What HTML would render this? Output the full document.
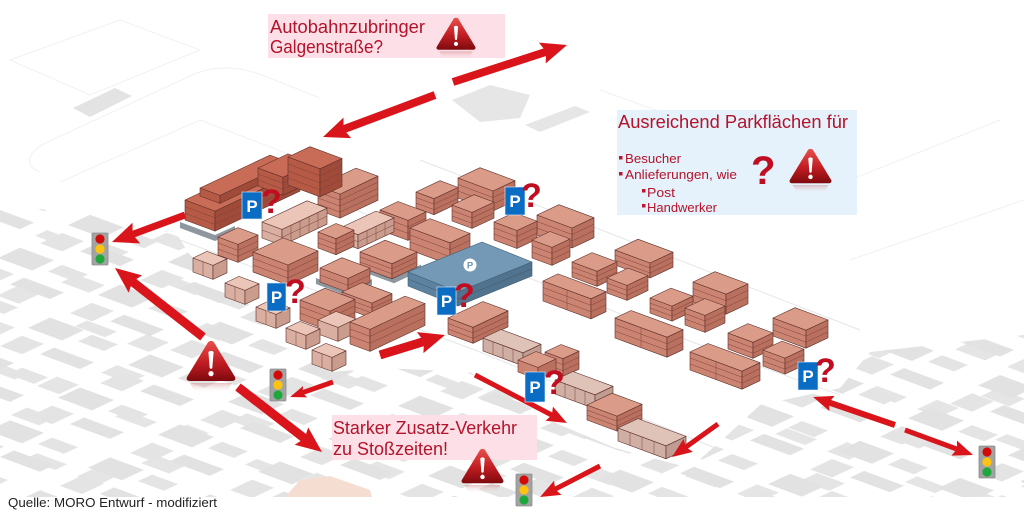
<!DOCTYPE html>
<html><head><meta charset="utf-8"><style>
html,body{margin:0;padding:0;background:#fff;}
svg{display:block;}
.b path{stroke:#5e302a;stroke-width:.6;stroke-linejoin:round;}
.f{fill:#cc8472}.s{fill:#b9705e}.t{fill:#da9b89}
.df{fill:#b65a46}.ds{fill:#a04b39}.dt{fill:#c86c57}
.lf{fill:#d9afa1}.ls{fill:#c99c8e}.lt{fill:#ebc6b8}
.gf{fill:#cfaea3}.gs{fill:#bf9d92}.gt{fill:#dfc2b8}
.b path.fl{fill:none;stroke:#7e4239;stroke-width:.5}
.ar{stroke:#d9151b;fill:none;stroke-linecap:butt}
.lbl{font-family:"Liberation Sans",Arial,sans-serif;fill:#b3132b;}
.q{font-family:"Liberation Sans",Arial,sans-serif;font-weight:bold;fill:#c00d22;}
.pt{font-family:"Liberation Sans",Arial,sans-serif;font-weight:bold;fill:#fff;font-size:17px;}
</style></head><body>
<svg width="1024" height="532" viewBox="0 0 1024 532" xmlns="http://www.w3.org/2000/svg">
<defs>
 <pattern id="blk" patternUnits="userSpaceOnUse" width="100" height="70" patternTransform="matrix(1 0.37 -1 0.47 0 0)">
  <rect x="6" y="6" width="34" height="22" fill="#e2e2e2"/>
  <rect x="50" y="8" width="26" height="14" fill="#e4e4e4"/>
  <rect x="12" y="40" width="22" height="22" fill="#e4e4e4"/>
  <rect x="44" y="40" width="40" height="14" fill="#e2e2e2"/>
 </pattern>
 <pattern id="blk2" patternUnits="userSpaceOnUse" width="130" height="90" patternTransform="matrix(1 0.37 -1 0.47 17 9)">
  <rect x="90" y="20" width="28" height="16" fill="#e5e5e5"/>
  <rect x="20" y="70" width="30" height="12" fill="#e5e5e5"/>
  <rect x="70" y="60" width="22" height="20" fill="#e5e5e5"/>
 </pattern>
 <linearGradient id="wg" x1="0" y1="0" x2="0" y2="1">
  <stop offset="0" stop-color="#e8504c"/><stop offset=".55" stop-color="#c01c22"/><stop offset="1" stop-color="#7e0a0e"/>
 </linearGradient>
 <linearGradient id="wr" x1="0" y1="0" x2="0" y2="1">
  <stop offset="0" stop-color="#c97a7a" stop-opacity=".45"/><stop offset="1" stop-color="#fff" stop-opacity="0"/>
 </linearGradient>
 <g id="warn">
  <path d="M4 43 L46 43 L40 53 L10 53 Z" fill="url(#wr)"/>
  <path d="M25 1 C27 1 28 2 29 4 L49 37 C50 39 49 41 46 41 L4 41 C1 41 0 39 1 37 L21 4 C22 2 23 1 25 1 Z" fill="url(#wg)"/>
  <path d="M22.4 12 Q25 9.8 27.6 12 L26.3 28 Q25 29.6 23.7 28 Z" fill="#fff"/>
  <circle cx="25" cy="33.6" r="2.6" fill="#fff"/>
 </g>
 <g id="tl">
  <rect x="0" y="0" width="16" height="32" rx="1" fill="#a3a3a3" stroke="#8c8c8c" stroke-width=".8"/>
  <circle cx="8" cy="6" r="4.6" fill="#d20a0a"/>
  <circle cx="8" cy="16" r="4.6" fill="#ffc20e"/>
  <circle cx="8" cy="26" r="4.6" fill="#1ea83c"/>
 </g>
 <marker id="mb" markerUnits="userSpaceOnUse" viewBox="0 0 26 22" markerWidth="26" markerHeight="22" refX="4" refY="11" orient="auto">
  <path d="M0 0 L26 11 L0 22 L4 11 Z" fill="#d9151b"/>
 </marker>
 <marker id="mm" markerUnits="userSpaceOnUse" viewBox="0 0 20 16" markerWidth="20" markerHeight="16" refX="3" refY="8" orient="auto">
  <path d="M0 0 L20 8 L0 16 L3 8 Z" fill="#d9151b"/>
 </marker>
 <marker id="ms" markerUnits="userSpaceOnUse" viewBox="0 0 16 12" markerWidth="16" markerHeight="12" refX="3" refY="6" orient="auto">
  <path d="M0 0 L16 6 L0 12 L3 6 Z" fill="#d9151b"/>
 </marker>
</defs>

<rect width="1024" height="532" fill="#fff"/>

<!-- background blocks -->
<path d="M0 205 L100 215 L178 236 L190 255 L330 372 L380 368 L470 372 L560 425 L615 448 L690 468 L722 440 L760 405 L840 388 L870 352 L1024 335 L1024 497 L0 497 Z" fill="url(#blk2)"/>
<path d="M0 205 L100 215 L178 236 L190 255 L330 372 L380 368 L470 372 L560 425 L615 448 L690 468 L722 440 L760 405 L840 388 L870 352 L1024 335 L1024 497 L0 497 Z" fill="url(#blk)"/>
<path d="M73 108 L115 88 L132 96 L90 117 Z" fill="#e3e3e3"/>
<path d="M452 100 L490 85 L530 95 L520 118 L480 122 Z" fill="#e6e6e6"/>
<path d="M525 125 L575 106 L590 112 L540 132 Z" fill="#e6e6e6"/>
<path d="M285 497 L300 480 L330 476 L370 490 L372 497 Z" fill="#f6ddd2"/>

<!-- faint outlines -->
<g fill="none" stroke="#f1f1f1" stroke-width="1">
 <path d="M40 172 C22 165 28 150 52 140 L190 76 C214 65 238 66 262 75 L320 98"/>
 <path d="M60 182 L200 120 L330 170"/>
 <path d="M10 60 L120 20 L200 50 L90 95 Z"/>
 <path d="M600 90 L850 180 L1000 120"/>
 <path d="M850 260 L1024 200"/>
</g>
<g fill="none" stroke="#e6e6e6" stroke-width="1">
 <path d="M180 240 L480 352 L720 450"/>
 <path d="M330 200 L700 345 L840 395"/>
 <path d="M420 160 L860 330"/>
</g>

<!-- gray bases -->
<path d="M180 222 l35 13 l20 -9 v6 l-20 9 l-35 -13z" fill="#8e969e"/>
<path d="M316 278 l32 12 l24 -11 v6 l-24 11 l-32 -12z" fill="#8e969e"/>
<path d="M358 264 l36 13.3 l27 -12.7 v6 l-27 12.7 l-36 -13.3z" fill="#8e969e"/>
<path d="M338 300 l36 13 l22 -10 v6 l-22 10 l-36 -13z" fill="#8e969e"/>

<!-- buildings -->
<g class="b">
<path class="f" d="M458 178l35 13v20l-35-13z"/><path class="s" d="M493 191l22-10.3v20l-22 10.3z"/><path class="t" d="M458 178l22-10.3l35 13l-22 10.3z"/><path class="fl" d="M458 184.5l35 13l22-10.3M458 191l35 13l22-10.3"/>
<path class="f" d="M318 186l22 8.1v24l-22-8.1z"/><path class="s" d="M340 194.1l38-17.9v24l-38 17.9z"/><path class="t" d="M318 186l38-17.9l22 8.1l-38 17.9z"/><path class="fl" d="M318 192l22 8.1l38-17.9M318 198l22 8.1l38-17.9M318 204l22 8.1l38-17.9"/>
<path class="f" d="M416 192l18 6.7v16l-18-6.7z"/><path class="s" d="M434 198.7l24-11.3v16l-24 11.3z"/><path class="t" d="M416 192l24-11.3l18 6.7l-24 11.3z"/><path class="fl" d="M416 197.5l18 6.7l24-11.3M416 203l18 6.7l24-11.3"/>
<path class="df" d="M185 200l30 11.1v20l-30-11.1z"/><path class="ds" d="M215 211.1l85-40v20l-85 40z"/><path class="dt" d="M185 200l85-40l30 11.1l-85 40z"/><path class="fl" d="M185 206.7l30 11.1l85-40M185 213.3l30 11.1l85-40"/>
<path class="df" d="M200 188l20 7.4v8l-20-7.4z"/><path class="ds" d="M220 195.4l70-32.9v8l-70 32.9z"/><path class="dt" d="M200 188l70-32.9l20 7.4l-70 32.9z"/>
<path class="df" d="M258 168l25 9.3v18l-25-9.3z"/><path class="ds" d="M283 177.3l30-14.1v18l-30 14.1z"/><path class="dt" d="M258 168l30-14.1l25 9.3l-30 14.1z"/><path class="fl" d="M258 174l25 9.3l30-14.1M258 180l25 9.3l30-14.1"/>
<path class="df" d="M288 157l32 11.8v28l-32-11.8z"/><path class="ds" d="M320 168.8l22-10.3v28l-22 10.3z"/><path class="dt" d="M288 157l22-10.3l32 11.8l-22 10.3z"/><path class="fl" d="M288 164l32 11.8l22-10.3M288 171l32 11.8l22-10.3M288 178l32 11.8l22-10.3"/>
<path class="f" d="M452 205l20 7.4v16l-20-7.4z"/><path class="s" d="M472 212.4l22-10.3v16l-22 10.3z"/><path class="t" d="M452 205l22-10.3l20 7.4l-22 10.3z"/><path class="fl" d="M452 210.5l20 7.4l22-10.3M452 216l20 7.4l22-10.3"/>
<path class="f" d="M380 210l28 10.4v20l-28-10.4z"/><path class="s" d="M408 220.4l18-8.5v20l-18 8.5z"/><path class="t" d="M380 210l18-8.5l28 10.4l-18 8.5z"/><path class="fl" d="M380 216.5l28 10.4l18-8.5M380 223l28 10.4l18-8.5"/>
<path class="f" d="M537 215l35 13v20l-35-13z"/><path class="s" d="M572 228l22-10.3v20l-22 10.3z"/><path class="t" d="M537 215l22-10.3l35 13l-22 10.3z"/><path class="fl" d="M537 221.5l35 13l22-10.3M537 228l35 13l22-10.3"/>
<path class="lf" d="M262 222l20 7.4v16l-20-7.4z"/><path class="ls" d="M282 229.4l45-21.2v16l-45 21.2z"/><path class="lt" d="M262 222l45-21.2l20 7.4l-45 21.2z"/><path class="fl" d="M262 230l20 7.4l45-21.2M291 225.2v16M300 220.9v16M309 216.7v16M318 212.5v16"/>
<path class="f" d="M494 222l23 8.5v18l-23-8.5z"/><path class="s" d="M517 230.5l20-9.4v18l-20 9.4z"/><path class="t" d="M494 222l20-9.4l23 8.5l-20 9.4z"/><path class="fl" d="M494 228l23 8.5l20-9.4M494 234l23 8.5l20-9.4"/>
<path class="lf" d="M340 228l18 6.7v14l-18-6.7z"/><path class="ls" d="M358 234.7l36-16.9v14l-36 16.9z"/><path class="lt" d="M340 228l36-16.9l18 6.7l-36 16.9z"/><path class="fl" d="M340 235l18 6.7l36-16.9M367 230.5v14M376 226.2v14M385 222v14"/>
<path class="f" d="M318 232l18 6.7v16l-18-6.7z"/><path class="s" d="M336 238.7l18-8.5v16l-18 8.5z"/><path class="t" d="M318 232l18-8.5l18 6.7l-18 8.5z"/><path class="fl" d="M318 237.5l18 6.7l18-8.5M318 243l18 6.7l18-8.5"/>
<path class="f" d="M410 228l40 14.8v22l-40-14.8z"/><path class="s" d="M450 242.8l20-9.4v22l-20 9.4z"/><path class="t" d="M410 228l20-9.4l40 14.8l-20 9.4z"/><path class="fl" d="M410 235l40 14.8l20-9.4M410 242l40 14.8l20-9.4"/>
<path class="f" d="M218 237l20 7.4v18l-20-7.4z"/><path class="s" d="M238 244.4l20-9.4v18l-20 9.4z"/><path class="t" d="M218 237l20-9.4l20 7.4l-20 9.4z"/><path class="fl" d="M218 243l20 7.4l20-9.4M218 249l20 7.4l20-9.4"/>
<path class="f" d="M532 240l20 7.4v18l-20-7.4z"/><path class="s" d="M552 247.4l18-8.5v18l-18 8.5z"/><path class="t" d="M532 240l18-8.5l20 7.4l-18 8.5z"/><path class="fl" d="M532 246l20 7.4l18-8.5M532 252l20 7.4l18-8.5"/>
<path class="f" d="M615 250l35 13v15l-35-13z"/><path class="s" d="M650 263l23-10.8v15l-23 10.8z"/><path class="t" d="M615 250l23-10.8l35 13l-23 10.8z"/><path class="fl" d="M615 255l35 13l23-10.8M615 260l35 13l23-10.8"/>
<path class="lf" d="M193 258l20 7.4v14l-20-7.4z"/><path class="ls" d="M213 265.4l14-6.6v14l-14 6.6z"/><path class="lt" d="M193 258l14-6.6l20 7.4l-14 6.6z"/><path class="fl" d="M203 261.7v14"/>
<path class="f" d="M253 252l35 13v20l-35-13z"/><path class="s" d="M288 265l30-14.1v20l-30 14.1z"/><path class="t" d="M253 252l30-14.1l35 13l-30 14.1z"/><path class="fl" d="M253 258.5l35 13l30-14.1M253 265l35 13l30-14.1"/>
<path class="f" d="M360 252l32 11.8v15l-32-11.8z"/><path class="s" d="M392 263.8l25-11.8v15l-25 11.8z"/><path class="t" d="M360 252l25-11.8l32 11.8l-25 11.8z"/><path class="fl" d="M360 257l32 11.8l25-11.8M360 262l32 11.8l25-11.8"/>
<path class="f" d="M572 262l25 9.3v15l-25-9.3z"/><path class="s" d="M597 271.3l20-9.4v15l-20 9.4z"/><path class="t" d="M572 262l20-9.4l25 9.3l-20 9.4z"/><path class="fl" d="M572 267l25 9.3l20-9.4M572 272l25 9.3l20-9.4"/>
<path class="f" d="M320 268l28 10.4v14l-28-10.4z"/><path class="s" d="M348 278.4l22-10.3v14l-22 10.3z"/><path class="t" d="M320 268l22-10.3l28 10.4l-22 10.3z"/><path class="fl" d="M320 275l28 10.4l22-10.3"/>
</g>

<!-- garage -->
<g stroke="#3f5e75" stroke-width=".6" stroke-linejoin="round">
 <path d="M408 272 L482 242 L532 262 L458 292 Z" fill="#7399b6"/>
 <path d="M408 272 L458 292 L458 306 L408 286 Z" fill="#5d829f"/>
 <path d="M458 292 L532 262 L532 276 L458 306 Z" fill="#51738e"/>
 <path d="M408 279 L458 299 L532 269" fill="none"/>
</g>
<circle cx="470" cy="265" r="6.5" fill="#fff"/>
<text x="470" y="268.5" text-anchor="middle" font-family="Liberation Sans, Arial, sans-serif" font-weight="bold" font-size="9.5" fill="#6f95b2">P</text>

<g class="b">
<path class="f" d="M607 278l20 7.4v15l-20-7.4z"/><path class="s" d="M627 285.4l21-9.9v15l-21 9.9z"/><path class="t" d="M607 278l21-9.9l20 7.4l-21 9.9z"/><path class="fl" d="M607 283l20 7.4l21-9.9M607 288l20 7.4l21-9.9"/>
<path class="f" d="M543 281l48 17.8v20l-48-17.8z"/><path class="s" d="M591 298.8l15-7.1v20l-15 7.1z"/><path class="t" d="M543 281l15-7.1l48 17.8l-15 7.1z"/><path class="fl" d="M543 287.5l48 17.8l15-7.1M543 294l48 17.8l15-7.1M567 289.9v20"/>
<path class="f" d="M693 282l33 12.2v20l-33-12.2z"/><path class="s" d="M726 294.2l22-10.3v20l-22 10.3z"/><path class="t" d="M693 282l22-10.3l33 12.2l-22 10.3z"/><path class="fl" d="M693 288.5l33 12.2l22-10.3M693 295l33 12.2l22-10.3"/>
<path class="lf" d="M225 283l20 7.4v14l-20-7.4z"/><path class="ls" d="M245 290.4l14-6.6v14l-14 6.6z"/><path class="lt" d="M225 283l14-6.6l20 7.4l-14 6.6z"/><path class="fl" d="M235 286.7v14"/>
<path class="f" d="M342 292l30 11.1v15l-30-11.1z"/><path class="s" d="M372 303.1l20-9.4v15l-20 9.4z"/><path class="t" d="M342 292l20-9.4l30 11.1l-20 9.4z"/><path class="fl" d="M342 297l30 11.1l20-9.4M342 302l30 11.1l20-9.4"/>
<path class="f" d="M650 298l22 8.1v15l-22-8.1z"/><path class="s" d="M672 306.1l21-9.9v15l-21 9.9z"/><path class="t" d="M650 298l21-9.9l22 8.1l-21 9.9z"/><path class="fl" d="M650 303l22 8.1l21-9.9M650 308l22 8.1l21-9.9"/>
<path class="f" d="M300 300l30 11.1v20l-30-11.1z"/><path class="s" d="M330 311.1l25-11.8v20l-25 11.8z"/><path class="t" d="M300 300l25-11.8l30 11.1l-25 11.8z"/><path class="fl" d="M300 306.5l30 11.1l25-11.8M300 313l30 11.1l25-11.8"/>
<path class="f" d="M685 308l20 7.4v17l-20-7.4z"/><path class="s" d="M705 315.4l20-9.4v17l-20 9.4z"/><path class="t" d="M685 308l20-9.4l20 7.4l-20 9.4z"/><path class="fl" d="M685 313.5l20 7.4l20-9.4M685 319l20 7.4l20-9.4"/>
<path class="lf" d="M256 307l20 7.4v14l-20-7.4z"/><path class="ls" d="M276 314.4l14-6.6v14l-14 6.6z"/><path class="lt" d="M256 307l14-6.6l20 7.4l-14 6.6z"/><path class="fl" d="M266 310.7v14"/>
<path class="f" d="M448 318l25 9.3v16l-25-9.3z"/><path class="s" d="M473 327.3l35-16.5v16l-35 16.5z"/><path class="t" d="M448 318l35-16.5l25 9.3l-35 16.5z"/><path class="fl" d="M448 323.5l25 9.3l35-16.5M448 329l25 9.3l35-16.5"/>
<path class="f" d="M615 318l52 19.2v20l-52-19.2z"/><path class="s" d="M667 337.2l16-7.5v20l-16 7.5z"/><path class="t" d="M615 318l16-7.5l52 19.2l-16 7.5z"/><path class="fl" d="M615 324.5l52 19.2l16-7.5M615 331l52 19.2l16-7.5M641 327.6v20"/>
<path class="f" d="M773 318l33 12.2v18l-33-12.2z"/><path class="s" d="M806 330.2l22-10.3v18l-22 10.3z"/><path class="t" d="M773 318l22-10.3l33 12.2l-22 10.3z"/><path class="fl" d="M773 324l33 12.2l22-10.3M773 330l33 12.2l22-10.3"/>
<path class="lf" d="M318 320l20 7.4v14l-20-7.4z"/><path class="ls" d="M338 327.4l18-8.5v14l-18 8.5z"/><path class="lt" d="M318 320l18-8.5l20 7.4l-18 8.5z"/>
<path class="f" d="M350 322l20 7.4v22l-20-7.4z"/><path class="s" d="M370 329.4l55-25.9v22l-55 25.9z"/><path class="t" d="M350 322l55-25.9l20 7.4l-55 25.9z"/><path class="fl" d="M350 329l20 7.4l55-25.9M350 336l20 7.4l55-25.9"/>
<path class="lf" d="M286 328l20 7.4v14l-20-7.4z"/><path class="ls" d="M306 335.4l14-6.6v14l-14 6.6z"/><path class="lt" d="M286 328l14-6.6l20 7.4l-14 6.6z"/><path class="fl" d="M296 331.7v14"/>
<path class="f" d="M728 333l25 9.3v16l-25-9.3z"/><path class="s" d="M753 342.3l20-9.4v16l-20 9.4z"/><path class="t" d="M728 333l20-9.4l25 9.3l-20 9.4z"/><path class="fl" d="M728 338.5l25 9.3l20-9.4M728 344l25 9.3l20-9.4"/>
<path class="gf" d="M483 338l40 14.8v13l-40-14.8z"/><path class="gs" d="M523 352.8l18-8.5v13l-18 8.5z"/><path class="gt" d="M483 338l18-8.5l40 14.8l-18 8.5z"/><path class="fl" d="M493 341.7v13M503 345.4v13M513 349.1v13"/>
<path class="f" d="M763 350l22 8.1v16l-22-8.1z"/><path class="s" d="M785 358.1l19-8.9v16l-19 8.9z"/><path class="t" d="M763 350l19-8.9l22 8.1l-19 8.9z"/><path class="fl" d="M763 355.5l22 8.1l19-8.9M763 361l22 8.1l19-8.9"/>
<path class="f" d="M690 352l52 19.2v18l-52-19.2z"/><path class="s" d="M742 371.2l18-8.5v18l-18 8.5z"/><path class="t" d="M690 352l18-8.5l52 19.2l-18 8.5z"/><path class="fl" d="M690 358l52 19.2l18-8.5M690 364l52 19.2l18-8.5M716 361.6v18"/>
<path class="f" d="M545 352l18 6.7v18l-18-6.7z"/><path class="s" d="M563 358.7l16-7.5v18l-16 7.5z"/><path class="t" d="M545 352l16-7.5l18 6.7l-16 7.5z"/><path class="fl" d="M545 358l18 6.7l16-7.5M545 364l18 6.7l16-7.5"/>
<path class="lf" d="M312 350l20 7.4v14l-20-7.4z"/><path class="ls" d="M332 357.4l14-6.6v14l-14 6.6z"/><path class="lt" d="M312 350l14-6.6l20 7.4l-14 6.6z"/><path class="fl" d="M322 353.7v14"/>
<path class="f" d="M518 360l20 7.4v12l-20-7.4z"/><path class="s" d="M538 367.4l18-8.5v12l-18 8.5z"/><path class="t" d="M518 360l18-8.5l20 7.4l-18 8.5z"/>
<path class="gf" d="M555 380l40 14.8v14l-40-14.8z"/><path class="gs" d="M595 394.8l18-8.5v14l-18 8.5z"/><path class="gt" d="M555 380l18-8.5l40 14.8l-18 8.5z"/><path class="fl" d="M565 383.7v14M575 387.4v14M585 391.1v14"/>
<path class="f" d="M587 405l30 11.1v15l-30-11.1z"/><path class="s" d="M617 416.1l25-11.8v15l-25 11.8z"/><path class="t" d="M587 405l25-11.8l30 11.1l-25 11.8z"/><path class="fl" d="M587 410l30 11.1l25-11.8M587 415l30 11.1l25-11.8"/>
<path class="gf" d="M618 428l48 17.8v13l-48-17.8z"/><path class="gs" d="M666 445.8l20-9.4v13l-20 9.4z"/><path class="gt" d="M618 428l20-9.4l48 17.8l-20 9.4z"/><path class="fl" d="M630 432.4v13M642 436.9v13M654 441.3v13"/>
</g>

<!-- arrows -->
<line class="ar" x1="435" y1="95" x2="343.6" y2="129.3" stroke-width="8" marker-end="url(#mb)"/>
<line class="ar" x1="453" y1="82" x2="546.1" y2="51.8" stroke-width="8" marker-end="url(#mb)"/>
<line class="ar" x1="185" y1="215" x2="132.6" y2="234.4" stroke-width="7" marker-end="url(#mb)"/>
<line class="ar" x1="203" y1="337" x2="132.3" y2="281.6" stroke-width="9" marker-end="url(#mb)"/>
<line class="ar" x1="238" y1="387" x2="304.6" y2="438.5" stroke-width="9" marker-end="url(#mb)"/>
<line class="ar" x1="333" y1="382" x2="302.3" y2="392.7" stroke-width="5" marker-end="url(#ms)"/>
<line class="ar" x1="380" y1="355" x2="424" y2="341.5" stroke-width="9" marker-end="url(#mb)"/>
<line class="ar" x1="475" y1="375" x2="551.9" y2="415.1" stroke-width="5" marker-end="url(#mm)"/>
<line class="ar" x1="718" y1="424" x2="685.8" y2="447.1" stroke-width="5" marker-end="url(#mm)"/>
<line class="ar" x1="600" y1="466" x2="555.1" y2="489.2" stroke-width="5" marker-end="url(#mm)"/>
<line class="ar" x1="895" y1="425" x2="829.1" y2="402.5" stroke-width="6" marker-end="url(#mm)"/>
<line class="ar" x1="905" y1="430" x2="957" y2="449.1" stroke-width="5" marker-end="url(#mm)"/>

<!-- P signs and question marks -->
<g>
 <rect x="242" y="192" width="20" height="27" fill="#0b6cc4" stroke="#e8f0fa" stroke-width=".6"/><text class="pt" x="252" y="212" text-anchor="middle">P</text>
 <text class="q" x="261" y="213" font-size="34">?</text>
 <rect x="267" y="283" width="19" height="28" fill="#0b6cc4" stroke="#e8f0fa" stroke-width=".6"/><text class="pt" x="276.5" y="303" text-anchor="middle">P</text>
 <text class="q" x="285" y="303" font-size="34">?</text>
 <rect x="437" y="287" width="19" height="28" fill="#0b6cc4" stroke="#e8f0fa" stroke-width=".6"/><text class="pt" x="446.5" y="307" text-anchor="middle">P</text>
 <text class="q" x="454" y="307" font-size="34">?</text>
 <rect x="505" y="187" width="20" height="28" fill="#0b6cc4" stroke="#e8f0fa" stroke-width=".6"/><text class="pt" x="515" y="207" text-anchor="middle">P</text>
 <text class="q" x="521" y="207" font-size="34">?</text>
 <rect x="525" y="372" width="20" height="30" fill="#0b6cc4" stroke="#e8f0fa" stroke-width=".6"/><text class="pt" x="535" y="393" text-anchor="middle">P</text>
 <text class="q" x="544" y="394" font-size="34">?</text>
 <rect x="798" y="362" width="20" height="28" fill="#0b6cc4" stroke="#e8f0fa" stroke-width=".6"/><text class="pt" x="808" y="382" text-anchor="middle">P</text>
 <text class="q" x="815" y="382" font-size="34">?</text>
</g>

<!-- traffic lights -->
<use href="#tl" transform="translate(92,233)"/>
<use href="#tl" transform="translate(270,369)"/>
<use href="#tl" transform="translate(516,474)"/>
<use href="#tl" transform="translate(979,446)"/>

<!-- text box 1 -->
<rect x="268" y="14" width="237" height="44" fill="#fde0e7"/>
<text class="lbl" x="270" y="33" font-size="18.5" textLength="155" lengthAdjust="spacingAndGlyphs">Autobahnzubringer</text>
<text class="lbl" x="270" y="53" font-size="18.5" textLength="113" lengthAdjust="spacingAndGlyphs">Galgenstraße?</text>
<use href="#warn" transform="translate(436,17) scale(0.8)"/>

<!-- text box 2 -->
<rect x="617" y="110" width="240" height="105" fill="#e5f2fb"/>
<text class="lbl" x="618" y="128" font-size="18" textLength="230" lengthAdjust="spacingAndGlyphs">Ausreichend Parkflächen für</text>
<rect x="619" y="156" width="3.5" height="3.5" fill="#c0142c"/>
<text class="lbl" x="625" y="163" font-size="13" textLength="56" lengthAdjust="spacingAndGlyphs">Besucher</text>
<rect x="619" y="172" width="3.5" height="3.5" fill="#c0142c"/>
<text class="lbl" x="625" y="179" font-size="13" textLength="112" lengthAdjust="spacingAndGlyphs">Anlieferungen, wie</text>
<rect x="642" y="189" width="3.5" height="3.5" fill="#c0142c"/>
<text class="lbl" x="647" y="197" font-size="13" textLength="28" lengthAdjust="spacingAndGlyphs">Post</text>
<rect x="642" y="204" width="3.5" height="3.5" fill="#c0142c"/>
<text class="lbl" x="647" y="212" font-size="13" textLength="70" lengthAdjust="spacingAndGlyphs">Handwerker</text>
<text class="q" x="751" y="184" font-size="40">?</text>
<use href="#warn" transform="translate(789,148) scale(0.86)"/>

<!-- big warning left -->
<use href="#warn" transform="translate(186,340) scale(1)"/>

<!-- text box 3 -->
<rect x="332" y="415" width="205" height="45" fill="#fde0e7"/>
<text class="lbl" x="333" y="434" font-size="18.5" textLength="184" lengthAdjust="spacingAndGlyphs">Starker Zusatz-Verkehr</text>
<text class="lbl" x="333" y="455" font-size="18.5" textLength="115" lengthAdjust="spacingAndGlyphs">zu Stoßzeiten!</text>
<use href="#warn" transform="translate(461,448) scale(0.86)"/>

<!-- caption -->
<text x="8" y="507" font-family="Liberation Sans, Arial, sans-serif" font-size="13" fill="#222" textLength="209" lengthAdjust="spacingAndGlyphs">Quelle: MORO Entwurf - modifiziert</text>
</svg>
</body></html>
